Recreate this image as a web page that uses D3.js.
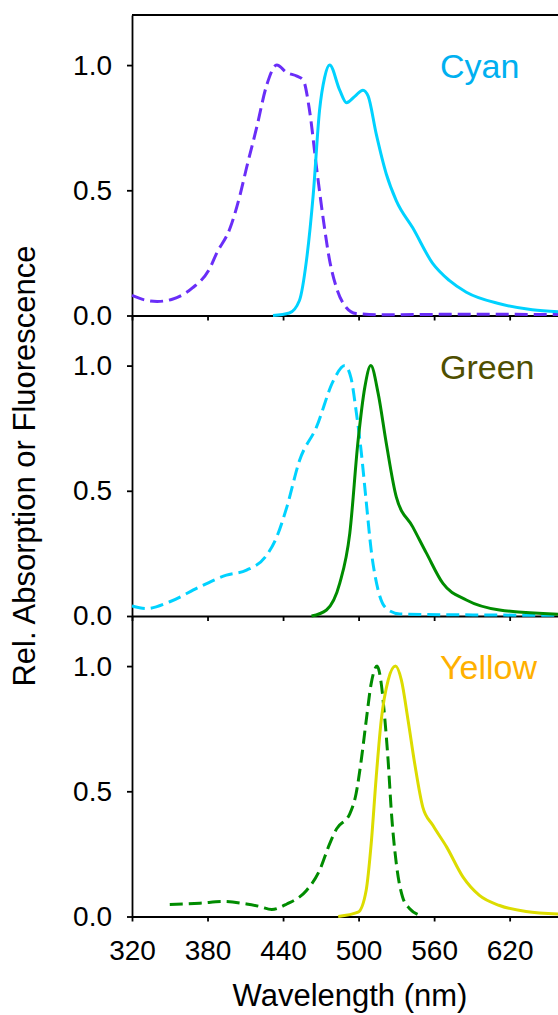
<!DOCTYPE html>
<meta charset="utf-8">
<script src="https://d3js.org/d3.v7.min.js"></script>
<style type="text/css">
  body { margin: 0; background: #fff; }
  text { font-family: Arial, "Liberation Sans", sans-serif; }
</style>
<body>
<svg width="558" height="1015"></svg>
<script>

    // wavelength (nm), relative value
    let violetAbs = [[320,0.08],[330,0.062],[340,0.056],[352,0.065],[368,0.11],[382,0.19],[387,0.246],[398,0.35],[406,0.485],[411,0.59],[419,0.75],[427,0.92],[435,1.0],[443,0.97],[451,0.956],[456,0.94],[461,0.82],[466.6,0.59],[471.8,0.39],[477,0.22],[482.5,0.11],[490,0.033],[498,0.008],[520,0.003],[580,0.005],[660,0.004]]
    let cyanEm = [[432,0],[445,0.01],[453,0.06],[458.6,0.22],[464,0.485],[469,0.82],[473,0.95],[477,1.0],[485,0.9],[490.4,0.85],[497,0.875],[503.5,0.9],[507.6,0.876],[514,0.725],[522,0.565],[530,0.458],[543,0.35],[559,0.207],[572,0.14],[585.6,0.093],[612,0.047],[638,0.023],[660,0.015]]

    let cyanAbs = [[320,0.04],[331.6,0.03],[350,0.057],[374,0.117],[395,0.163],[411,0.183],[427,0.243],[435,0.316],[443,0.435],[453,0.62],[466.6,0.755],[480,0.94],[489,1.0],[494,0.95],[498,0.82],[502,0.66],[506,0.46],[510,0.263],[515.5,0.104],[522,0.03],[532.7,0.008],[600,0.004],[660,0.003]]
    let greenEm = [[462.6,0],[474.5,0.024],[485,0.13],[493,0.33],[499.6,0.7],[505,0.915],[509.7,1.0],[515.5,0.89],[522,0.69],[530,0.475],[543,0.356],[554,0.25],[567,0.13],[585.6,0.064],[612,0.024],[660,0.007]]

    let greenAbs = [[350,0.048],[374,0.053],[392.5,0.06],[411,0.05],[421.6,0.04],[431,0.028],[443,0.05],[458.6,0.104],[469,0.184],[477,0.29],[482.5,0.35],[493,0.41],[498,0.49],[502,0.62],[506,0.78],[510,0.93],[514.7,1.0],[518,0.93],[521,0.78],[523.5,0.62],[526,0.42],[530,0.21],[535,0.077],[540.6,0.031],[547,0.008]]
    let yellowEm = [[483.8,0],[499.6,0.017],[506,0.104],[510,0.29],[514,0.557],[518,0.784],[523.5,0.944],[529.3,1.0],[534,0.944],[539.3,0.784],[544.6,0.61],[551,0.437],[559,0.364],[570,0.277],[583,0.157],[596,0.084],[612,0.044],[633,0.02],[660,0.01]]

    let panelNames = ['Cyan', 'Green', 'Yellow']
    let xTicks = [320, 380, 440, 500, 560, 620]
    let yTicks = [0.0, 0.5, 1.0]

    let panels = [
        {name: panelNames[0], labelColor: '#00b0f0', abs: violetAbs, absColor: '#6a2ef8', em: cyanEm, emColor: '#00d2ff'},
        {name: panelNames[1], labelColor: '#4f4f00', abs: cyanAbs, absColor: '#00d2ff', em: greenEm, emColor: '#008c00'},
        {name: panelNames[2], labelColor: '#ffb000', abs: greenAbs, absColor: '#008c00', em: yellowEm, emColor: '#dcdc00'}
    ]

    let svg = d3.select('svg'),
        mLeft = 132, mRight = 560, mTop = 15, panelH = 300.5

    let x = d3.scaleLinear().domain([320, 660]).range([mLeft, mRight])

    let line = y => d3.line().x(d => x(d[0])).y(d => y(d[1])).curve(d3.curveMonotoneX)

    panels.forEach((p, i) => {
        let y0 = mTop + panelH * i,
            y1 = mTop + panelH * (i + 1),
            y = d3.scaleLinear().domain([0, 1.2]).range([y1, y0]),
            g = svg.append('g')

        g.append('g').attr('transform', `translate(${mLeft},0)`)
            .call(d3.axisLeft(y).tickValues(yTicks).tickFormat(d3.format('.1f')).tickSize(5).tickSizeOuter(0).tickPadding(15))
        g.append('g').attr('transform', `translate(0,${y1})`)
            .call(d3.axisBottom(x).tickValues(xTicks).tickSize(5).tickSizeOuter(0).tickPadding(19)
                .tickFormat(i == panels.length - 1 ? d3.format('d') : ''))

        g.selectAll('.domain, .tick line').attr('stroke', '#000').attr('stroke-width', 1.8)
        g.selectAll('.tick text').attr('font-size', 28).attr('fill', '#000')
            .style('font-family', 'Arial, "Liberation Sans", sans-serif')

        g.append('path').datum(p.abs)
            .attr('d', line(y))
            .attr('fill', 'none')
            .attr('stroke', p.absColor)
            .attr('stroke-width', 3)
            .attr('stroke-dasharray', '13,6')

        g.append('path').datum(p.em)
            .attr('d', line(y))
            .attr('fill', 'none')
            .attr('stroke', p.emColor)
            .attr('stroke-width', 3)

        g.append('text')
            .attr('x', 440)
            .attr('y', y(1.0) + 13)
            .attr('font-size', 34)
            .attr('fill', p.labelColor)
            .text(p.name)
    })

    svg.append('line')
        .attr('x1', mLeft).attr('x2', 558)
        .attr('y1', mTop).attr('y2', mTop)
        .attr('stroke', '#000').attr('stroke-width', 1.8)

    svg.append('text')
        .attr('x', 350).attr('y', 1006)
        .attr('text-anchor', 'middle')
        .attr('font-size', 31)
        .text('Wavelength (nm)')

    svg.append('text')
        .attr('transform', 'translate(35,466) rotate(-90)')
        .attr('text-anchor', 'middle')
        .attr('font-size', 31)
        .text('Rel. Absorption or Fluorescence')

</script>
</body>
